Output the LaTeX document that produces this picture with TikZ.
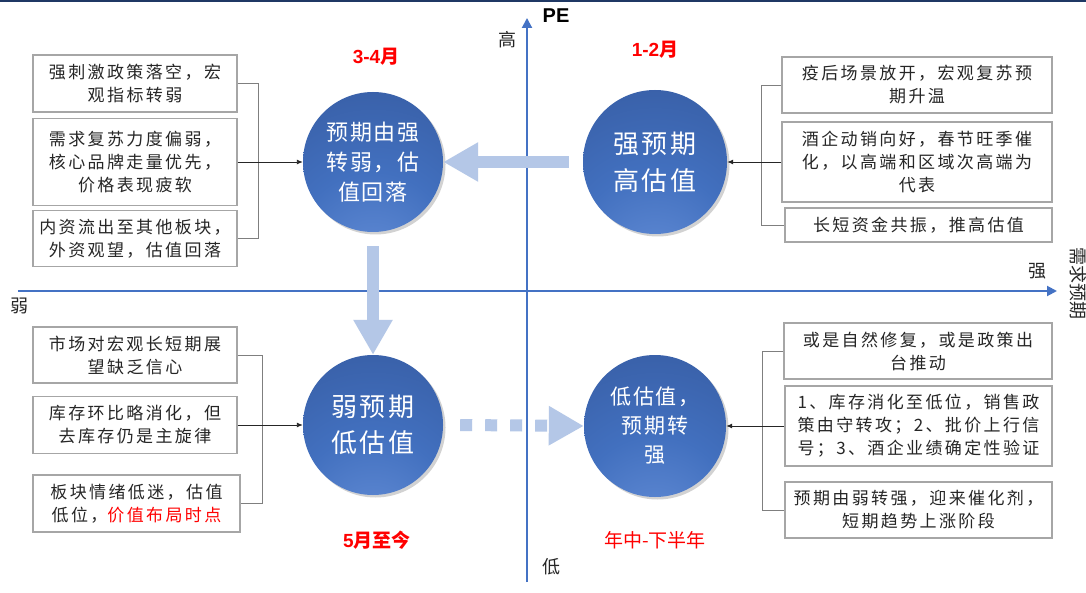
\documentclass[tikz,border=0pt]{standalone}
\usepackage{fontspec}
\setmainfont{Liberation Sans}
\newfontfamily\cjk{Noto Sans CJK SC}
\newfontfamily\cjkbox[LetterSpace=14]{Noto Sans CJK SC}
\newfontfamily\cjkball[LetterSpace=8]{Noto Sans CJK SC}
\usetikzlibrary{arrows.meta,shadows}
\definecolor{axisblue}{HTML}{4472C4}
\definecolor{navyline}{HTML}{1F3864}
\definecolor{arrowblue}{HTML}{B4C7E7}
\definecolor{boxgray}{HTML}{A6A6A6}
\definecolor{linegray}{HTML}{7F7F7F}
\definecolor{txtgray}{HTML}{262626}
\definecolor{balldark}{HTML}{2A4886}
\definecolor{ballmid}{HTML}{35599E}
\definecolor{ballblue}{HTML}{4270BF}
\definecolor{ballbright}{HTML}{5A85D0}
\definecolor{balllight}{HTML}{9AB0DC}
\definecolor{lblred}{HTML}{FF0000}
\pgfdeclareradialshading{ballshade}{\pgfpoint{0bp}{-42bp}}{color(0bp)=(balllight); color(10bp)=(ballbright); color(28bp)=(ballblue); color(60bp)=(ballmid); color(92bp)=(balldark); color(110bp)=(balldark)}
\tikzset{
  ball/.style={circle, inner sep=0pt, shading=ballshade, text=white, align=center,
    drop shadow={opacity=0.35, shadow xshift=2.5pt, shadow yshift=-2.5pt}},
  infobox/.style={draw=boxgray, line width=1.3pt, fill=white, inner sep=0pt, align=center,
    text=txtgray, font={\fontsize{17}{23}\selectfont\cjkbox}},
  bracket/.style={draw=linegray, line width=0.9pt},
  pointer/.style={draw=txtgray, line width=0.9pt, -{Latex[length=6pt,width=5pt]}},
  bigarrow/.style={draw=arrowblue, line width=12pt, -{Triangle[length=35pt,width=37pt]}},
  axisline/.style={draw=axisblue, line width=2pt, -{Triangle[length=10pt,width=10pt]}},
  redlbl/.style={text=lblred, font={\fontsize{19}{19}\selectfont\bfseries}},
  axislbl/.style={text=txtgray, font={\fontsize{18}{18}\selectfont\cjk}},
}
\begin{document}
\begin{tikzpicture}[x=1pt,y=-1pt]
\fill[white] (0,0) rectangle (1086,593);
\useasboundingbox (0,0) rectangle (1086,593);
\draw[navyline, line width=2.5pt] (0,1) -- (1086,1);

% axes
\coordinate (xa0) at (18,291);
\coordinate (xa1) at (1057,291);
\coordinate (ya0) at (527,582);
\coordinate (ya1) at (527,18);
\draw[axisline] (xa0) -- (xa1);
\draw[axisline] (ya0) -- (ya1);
\node[font={\fontsize{20}{20}\selectfont\bfseries}] (pe) at (556,16) {PE};
\node[axislbl] (hi) at (507,40) {高};
\node[axislbl] (lo) at (551,567) {低};
\node[axislbl] (wk) at (19,306) {弱};
\node[axislbl] (st) at (1037,271) {强};
\node[axislbl, rotate=-90] (dm) at (1078,284) {需求预期};

% circles
\node[ball, minimum size=140pt, font={\fontsize{22}{30}\selectfont\cjkball}] (c1) at (373,162) {预期由强\\转弱，估\\值回落};
\node[ball, minimum size=144pt, font={\fontsize{26}{37}\selectfont\cjkball}] (c2) at (655,162) {强预期\\高估值};
\node[ball, minimum size=140pt, font={\fontsize{26}{36}\selectfont\cjkball}] (c3) at (373,425) {弱预期\\低估值};
\node[ball, minimum size=142pt, font={\fontsize{21}{29}\selectfont\cjkball}] (c4) at (655,426) {低估值，\\预期转\\强};

% big arrows
\draw[bigarrow] ([xshift=-14pt]c2.west) -- (c1.east);
\draw[bigarrow] ([yshift=-14pt]c1.south) -- (c3.north);
\draw[bigarrow, dash pattern=on 12pt off 13pt] ([xshift=17pt]c3.east) -- (c4.west);

% period labels
\node[redlbl] (p1) at (376,57) {3-4{\cjk 月}};
\node[redlbl] (p2) at (655,50) {1-2{\cjk 月}};
\node[redlbl] (p3) at (377,540) {5{\cjk 月至今}};
\node[redlbl, font={\fontsize{19}{19}\selectfont\cjk}] (p4) at (655,540) {年中-下半年};

% left top boxes
\node[infobox, minimum width=204pt, minimum height=57pt] (lt1) at (135,83.5) {强刺激政策落空，宏\\观指标转弱};
\node[infobox, minimum width=204pt, minimum height=87pt] (lt2) at (135,162) {需求复苏力度偏弱，\\核心品牌走量优先，\\价格表现疲软};
\node[infobox, minimum width=204pt, minimum height=56pt] (lt3) at (135,238.5) {内资流出至其他板块，\\外资观望，估值回落};
\coordinate (blt) at (258,0);
\draw[bracket] (lt1.east) -- (lt1.east -| blt) -- (lt3.east -| blt) -- (lt3.east);
\draw[pointer] (lt2.east) -- (lt2.east -| c1.west);

% left bottom boxes
\node[infobox, minimum width=204pt, minimum height=56pt] (lb1) at (135,355) {市场对宏观长短期展\\望缺乏信心};
\node[infobox, minimum width=204pt, minimum height=57pt] (lb2) at (135,425) {库存环比略消化，但\\去库存仍是主旋律};
\node[infobox, minimum width=207pt, minimum height=57pt] (lb3) at (136.5,503.5) {板块情绪低迷，估值\\低位，\textcolor{lblred}{价值布局时点}};
\coordinate (blb) at (262,0);
\draw[bracket] (lb1.east) -- (lb1.east -| blb) -- (lb3.east -| blb) -- (lb3.east);
\draw[pointer] (lb2.east) -- (lb2.east -| c3.west);

% right top boxes
\node[infobox, minimum width=270pt, minimum height=56pt] (rt1) at (917,85) {疫后场景放开，宏观复苏预\\期升温};
\node[infobox, minimum width=270pt, minimum height=80pt] (rt2) at (917,162) {酒企动销向好，春节旺季催\\化，以高端和区域次高端为\\代表};
\node[infobox, minimum width=267pt, minimum height=34pt] (rt3) at (918.5,225) {长短资金共振，推高估值};
\coordinate (brt) at (761,0);
\draw[bracket] (rt1.west) -- (rt1.west -| brt) -- (rt3.west -| brt) -- (rt3.west);
\draw[pointer] (rt2.west) -- (rt2.west -| c2.east);

% right bottom boxes
\node[infobox, minimum width=268pt, minimum height=56pt] (rb1) at (918,351) {或是自然修复，或是政策出\\台推动};
\node[infobox, minimum width=267pt, minimum height=80pt] (rb2) at (918.5,426) {1、库存消化至低位，销售政\\策由守转攻；2、批价上行信\\号；3、酒企业绩确定性验证};
\node[infobox, minimum width=267pt, minimum height=56pt] (rb3) at (918.5,510) {预期由弱转强，迎来催化剂，\\短期趋势上涨阶段};
\coordinate (brb) at (762,0);
\draw[bracket] (rb1.west) -- (rb1.west -| brb) -- (rb3.west -| brb) -- (rb3.west);
\draw[pointer] (rb2.west) -- (rb2.west -| c4.east);
\end{tikzpicture}
\end{document}
